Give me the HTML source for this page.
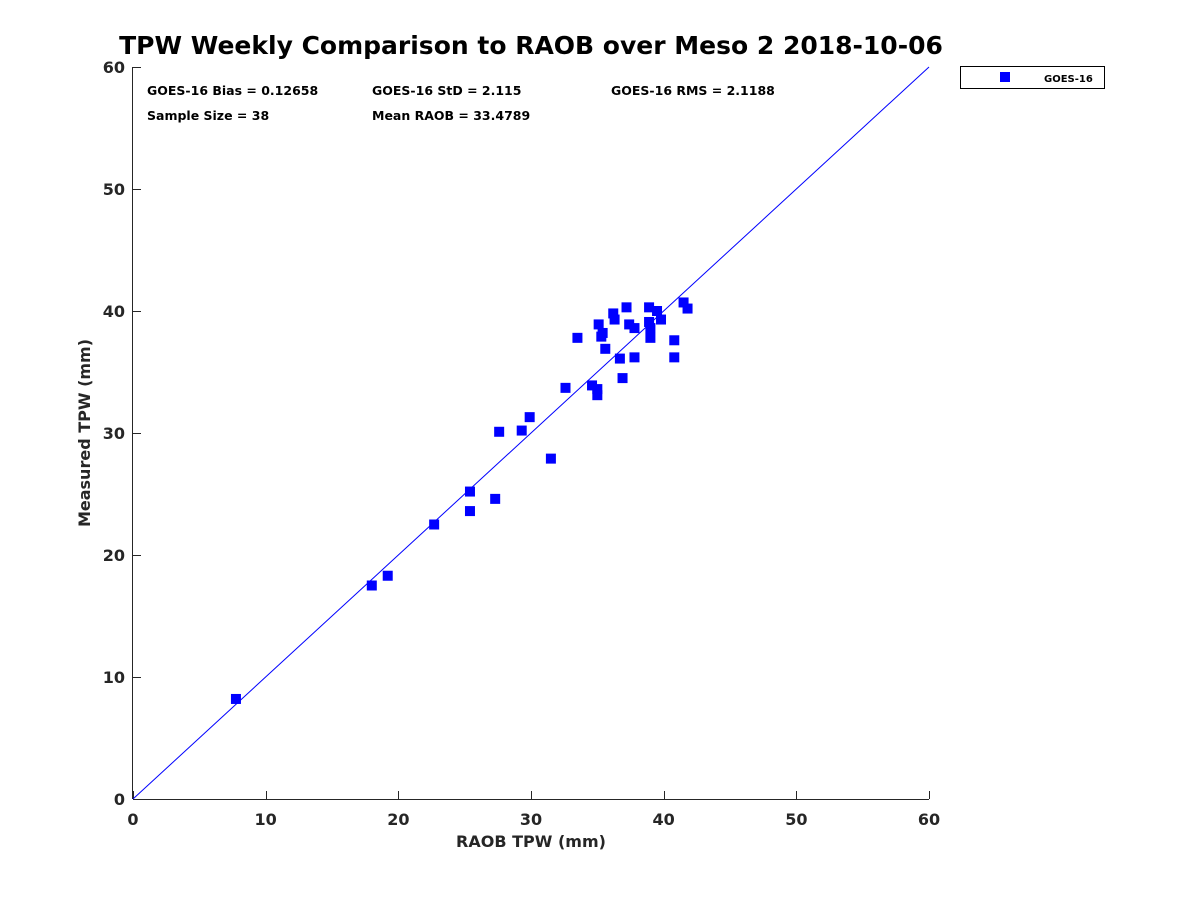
<!DOCTYPE html>
<html><head><meta charset="utf-8"><style>
html,body{margin:0;padding:0;background:#fff;}
svg{display:block;font-family:"DejaVu Sans","Liberation Sans",sans-serif;font-weight:bold;}
</style></head><body>
<svg id="chart" width="1200" height="900" viewBox="0 0 1200 900" xmlns="http://www.w3.org/2000/svg">
<rect width="1200" height="900" fill="#fff"/>
<text x="531" y="54" font-size="25" text-anchor="middle" fill="#000">TPW Weekly Comparison to RAOB over Meso 2 2018-10-06</text>
<g id="axes"></g>
<g id="marks"></g>
<g font-size="12.5" fill="#000">
<text x="147" y="95">GOES-16 Bias = 0.12658</text>
<text x="372" y="95">GOES-16 StD = 2.115</text>
<text x="611" y="95">GOES-16 RMS = 2.1188</text>
<text x="147" y="120">Sample Size = 38</text>
<text x="372" y="120">Mean RAOB = 33.4789</text>
</g>
<g>
<rect x="960.5" y="66.5" width="144" height="22" fill="#fff" stroke="#000" stroke-width="1"/>
<rect x="1000" y="72" width="10" height="10" fill="#0000ff"/>
<text x="1044" y="82" font-size="10" fill="#000">GOES-16</text>
</g>
<text x="531" y="847" font-size="16" text-anchor="middle" fill="#262626">RAOB TPW (mm)</text>
<text transform="translate(90,433) rotate(-90)" font-size="16" text-anchor="middle" fill="#262626">Measured TPW (mm)</text>
</svg>
<script>
const raobValues = [7.76,18.0,19.2,22.7,25.4,25.4,27.3,27.6,29.3,29.9,31.5,32.6,33.5,34.6,35.0,35.0,35.1,35.4,35.3,35.6,36.2,36.3,37.2,36.7,36.9,37.4,37.8,37.8,38.9,39.5,38.9,39.0,39.0,39.8,40.8,40.8,41.5,41.8];
const measuredValues = [8.2,17.5,18.3,22.5,25.2,23.6,24.6,30.1,30.2,31.3,27.9,33.7,37.8,33.9,33.6,33.1,38.9,38.2,37.9,36.9,39.8,39.3,40.3,36.1,34.5,38.9,38.6,36.2,40.3,40.0,39.1,38.6,37.8,39.3,37.6,36.2,40.7,40.2];
const xTicks = [0,10,20,30,40,50,60];
const yTicks = [0,10,20,30,40,50,60];
const X0=133,X1=929,Y0=799,Y1=67;
function xs(v){return X0+(v-0)/60*(X1-X0);}
function ys(v){return Y0-(v-0)/60*(Y0-Y1);}
const NS="http://www.w3.org/2000/svg";
const axes=document.getElementById('axes'), marks=document.getElementById('marks');
function mk(t,a,p){const e=document.createElementNS(NS,t);for(const k in a)e.setAttribute(k,a[k]);p.appendChild(e);return e;}
let ax=mk('line',{x1:X0,y1:Y0+0.5,x2:X1,y2:Y0+0.5,stroke:'#262626','stroke-width':1},axes);


let ay=mk('line',{x1:X0-0.5,y1:Y0,x2:X0-0.5,y2:Y1,stroke:'#262626','stroke-width':1},axes);


xTicks.forEach(v=>{
  const x=Math.round(xs(v))+0.5;
  const t=mk('line',{x1:x,y1:Y0,x2:x,y2:Y0-8,stroke:'#262626'},axes);
  
  
  const l=mk('text',{x:xs(v),y:Y0+26,'font-size':16,'text-anchor':'middle',fill:'#262626'},axes);
  l.textContent=v;
  
  
});
yTicks.forEach(v=>{
  const y=Math.round(ys(v))+0.5;
  const t=mk('line',{x1:X0,y1:y,x2:X0+8,y2:y,stroke:'#262626'},axes);
  
  
  const l=mk('text',{x:X0-8,y:ys(v)+6,'font-size':16,'text-anchor':'end',fill:'#262626'},axes);
  l.textContent=v;
  
  
});
const ref=mk('line',{x1:xs(0),y1:ys(0),x2:xs(60),y2:ys(60),stroke:'#0000ff','stroke-width':1},marks);


raobValues.forEach((v,i)=>{
  const r=mk('rect',{x:xs(v)-5,y:ys(measuredValues[i])-5,width:10,height:10,fill:'#0000ff'},marks);
  
  
});
</script>
</body></html>
